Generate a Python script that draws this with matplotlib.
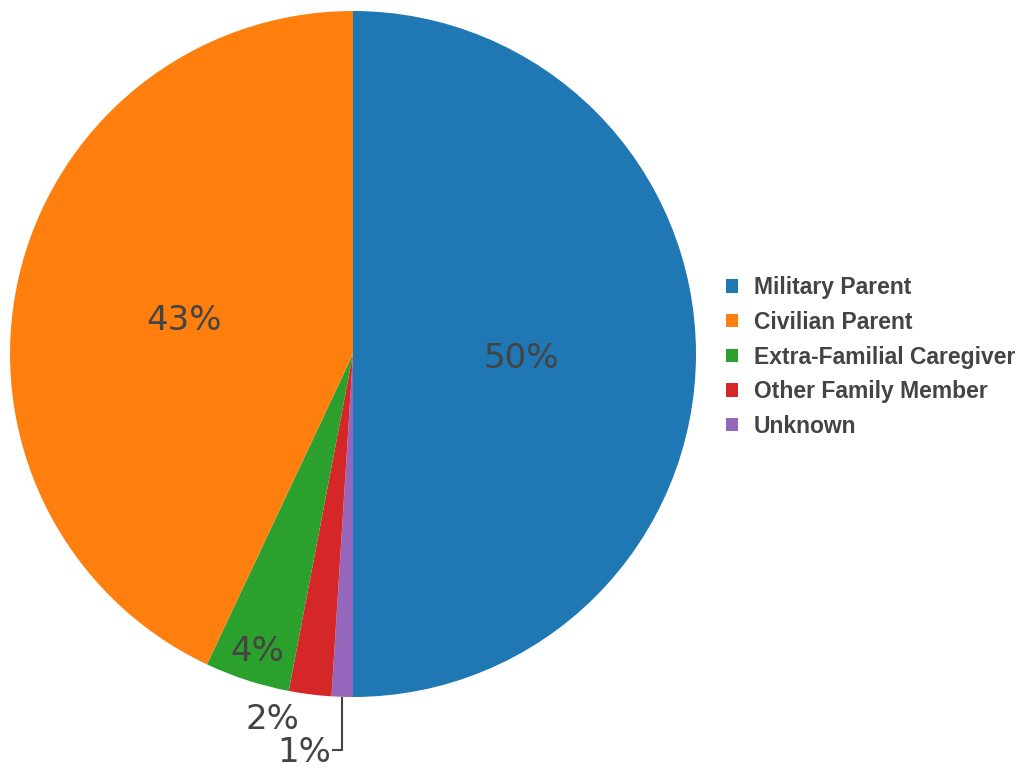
import matplotlib
matplotlib.use("Agg")
import matplotlib.pyplot as plt
import numpy as np
from matplotlib.patches import Patch

# Data (legend order)
categories = ["Military Parent", "Civilian Parent", "Extra-Familial Caregiver",
              "Other Family Member", "Unknown"]
values = [50, 43, 4, 2, 1]
labels = ["50%", "43%", "4%", "2%", "1%"]
colors = ["#1f77b4", "#ff7f0e", "#2ca02c", "#d62728", "#9467bd"]

# drawing order clockwise from 12 o'clock
draw_order = [0, 4, 3, 2, 1]

W, H = 1026, 771
fig = plt.figure(figsize=(W / 100, H / 100), dpi=100)
ax = fig.add_axes([0, 0, 1, 1])

cx, cy, R = 353, H - 354, 343
vals = [values[i] for i in draw_order]
cols = [colors[i] for i in draw_order]
wedges, _ = ax.pie(vals, colors=cols, startangle=90, counterclock=False,
                   center=(cx, cy), radius=R, frame=True,
                   wedgeprops=dict(linewidth=0))
ax.set_xlim(0, W)
ax.set_ylim(0, H)
ax.set_aspect("equal")
ax.axis("off")

txt_color = "#444444"
fs = 24.5
# inside label radii (fraction of R), per drawing order
inside_r = {0: 0.49, 1: 0.505, 2: 0.90}
for k, idx in enumerate(draw_order):
    w = wedges[k]
    mid = np.deg2rad((w.theta1 + w.theta2) / 2)
    if idx in inside_r:
        r = inside_r[idx] * R
        ax.text(cx + r * np.cos(mid), cy + r * np.sin(mid) - 4, labels[idx],
                ha="center", va="center", fontsize=fs, color=txt_color,
                family="DejaVu Sans")
    elif idx == 3:
        px, py = cx + R * np.cos(mid), cy + R * np.sin(mid)
        ax.text(px - 38, py - 25, labels[idx], ha="center", va="center",
                fontsize=fs, color=txt_color, family="DejaVu Sans")
    elif idx == 4:
        px, py = cx + R * np.cos(mid), cy + R * np.sin(mid)
        ly = H - 750
        ax.plot([px, px, px - 10], [py, ly, ly], color="#444444", lw=1.5,
                solid_capstyle="butt", solid_joinstyle="miter")
        ax.text(px - 11, ly - 3, labels[idx], ha="right", va="center",
                fontsize=fs, color=txt_color, family="DejaVu Sans")

handles = [Patch(facecolor=c, edgecolor="none") for c in colors]
leg = ax.legend(handles, categories, loc="upper left",
                bbox_to_anchor=(717 / W, 1 - 267 / H), frameon=False,
                prop=dict(family="Liberation Sans", weight="bold", size=16.5),
                handlelength=0.52, handleheight=0.52, handletextpad=0.69,
                labelspacing=0.51, borderaxespad=0)
for t in leg.get_texts():
    t.set_color(txt_color)

fig.savefig("out.png", dpi=100)
